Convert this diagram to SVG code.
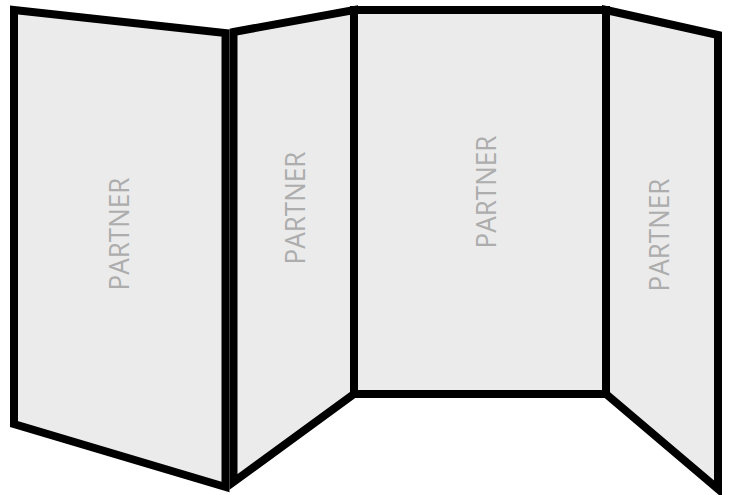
<svg xmlns="http://www.w3.org/2000/svg" width="731" height="495" viewBox="0 0 731 495">
<style>
.p{fill:#ebebeb;stroke:#000;stroke-width:8;stroke-linejoin:miter}
.t{font-family:"Open Sans","Liberation Sans",sans-serif;font-size:27px;fill:#adadad;text-anchor:middle;dominant-baseline:central}
</style>
<rect width="731" height="495" fill="#fff"/>
<g id="panel1"><polygon class="p" points="14,10 225.5,33 225.5,487 14,424"/><text class="t" transform="translate(118,234) rotate(-90)" textLength="113" lengthAdjust="spacingAndGlyphs">PARTNER</text></g>
<g id="panel2"><polygon class="p" points="233.5,32 354,10 354,394 233.5,482"/><text class="t" transform="translate(294,208) rotate(-90)" textLength="113" lengthAdjust="spacingAndGlyphs">PARTNER</text></g>
<g id="panel3"><polygon class="p" points="354,10 606,10 606,394 354,394"/><text class="t" transform="translate(485,192) rotate(-90)" textLength="113" lengthAdjust="spacingAndGlyphs">PARTNER</text></g>
<g id="panel4"><polygon class="p" points="606,10 718,35 718,489 606,394"/><text class="t" transform="translate(658,235) rotate(-90)" textLength="113" lengthAdjust="spacingAndGlyphs">PARTNER</text></g>
<g id="connectors"></g>
</svg>
